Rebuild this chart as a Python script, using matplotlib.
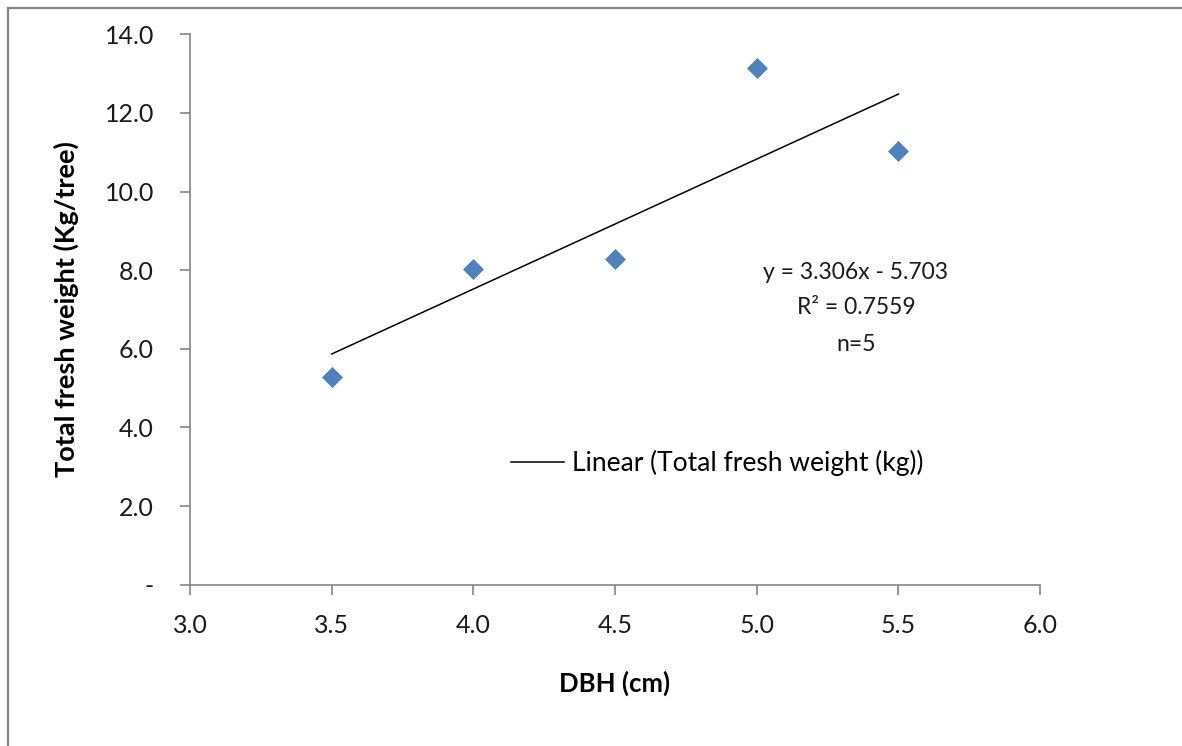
import matplotlib
matplotlib.use('Agg')
import matplotlib.pyplot as plt
from matplotlib.lines import Line2D
from matplotlib.ticker import FuncFormatter

plt.rcParams['font.family'] = ['Lato', 'DejaVu Sans']

# DBH (cm) and total fresh weight (kg/tree)
dbh = [3.5, 4.0, 4.5, 5.0, 5.5]
fresh_weight = [5.29, 8.04, 8.29, 13.14, 11.04]

# Linear trendline coefficients
slope = 3.306
intercept = -5.703
r_squared = 0.7559
n_trees = 5

fig = plt.figure(figsize=(11.82, 7.46), dpi=100)
ax = fig.add_axes([0.1607, 0.2162, 0.7193, 0.7378])

ax.plot(dbh, fresh_weight, linestyle='none', marker='D', markersize=10.5,
        color='#4F81BD', markeredgecolor='#4F81BD', markeredgewidth=0.5,
        zorder=3)

trend_x = [min(dbh), max(dbh)]
trend_y = [slope * x + intercept for x in trend_x]
ax.plot(trend_x, trend_y, color='black', linewidth=1.1,
        label='Linear (Total fresh weight (kg))')

ax.set_xlim(3.0, 6.0)
ax.set_ylim(0, 14)
ax.set_xticks([3.0, 3.5, 4.0, 4.5, 5.0, 5.5, 6.0])
ax.set_yticks([0, 2, 4, 6, 8, 10, 12, 14])
ax.xaxis.set_major_formatter(FuncFormatter(lambda v, p: f'{v:.1f}'))
ax.yaxis.set_major_formatter(FuncFormatter(lambda v, p: '-' if v == 0 else f'{v:.1f}'))

for side in ['top', 'right']:
    ax.spines[side].set_visible(False)
for side in ['left', 'bottom']:
    ax.spines[side].set_color('#868686')
    ax.spines[side].set_linewidth(1.2)
ax.tick_params(axis='both', colors='#868686', labelcolor='#1a1a1a',
               labelsize=18, length=7, width=1.2)
ax.tick_params(axis='y', pad=19)
ax.tick_params(axis='x', pad=14)

ax.set_xlabel('DBH (cm)', fontsize=18.5, fontweight='bold', labelpad=24)
ax.set_ylabel('Total fresh weight (Kg/tree)', fontsize=19.5, fontweight='bold',
              labelpad=18)

# trendline equation, one line per text
eq_lines = [f'y = {slope}x - {abs(intercept)}', f'R² = {r_squared}', f'n={n_trees}']
for line, y in zip(eq_lines, [7.95, 7.04, 6.12]):
    ax.text(5.35, y, line, ha='center', va='center', fontsize=16.5,
            color='#1a1a1a')

ax.legend(loc='center left', bbox_to_anchor=(0.35, 0.221), frameon=False,
          fontsize=19, handlelength=2.0, handletextpad=0.3)

# chart area border
fig.add_artist(Line2D([8 / 1182, 8 / 1182], [0, 1 - 8 / 746],
                      color='#868686', linewidth=1.6))
fig.add_artist(Line2D([8 / 1182, 1], [1 - 8 / 746, 1 - 8 / 746],
                      color='#868686', linewidth=1.6))

fig.savefig('out.png', dpi=100)
